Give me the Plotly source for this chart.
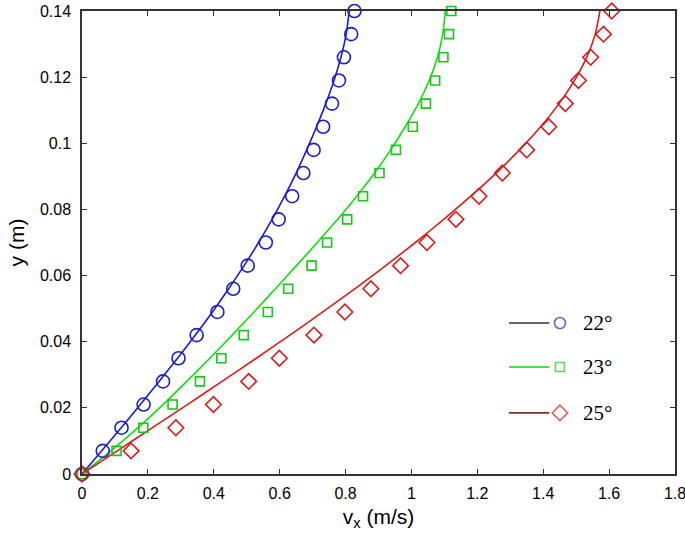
import plotly.graph_objects as go

# ---- data ----
y_pts = [0, 0.007, 0.014, 0.021, 0.028, 0.035, 0.042, 0.049, 0.056, 0.063, 0.07,
         0.077, 0.084, 0.091, 0.098, 0.105, 0.112, 0.119, 0.126, 0.133, 0.14]

# measured points (markers)
vx_22_pts = [0, 0.063, 0.12, 0.187, 0.246, 0.293, 0.348, 0.411, 0.459, 0.503, 0.558,
             0.597, 0.638, 0.672, 0.703, 0.732, 0.759, 0.780, 0.795, 0.817, 0.827]
vx_23_pts = [0, 0.105, 0.186, 0.275, 0.358, 0.423, 0.491, 0.564, 0.626, 0.697, 0.744,
             0.805, 0.853, 0.903, 0.953, 1.004, 1.044, 1.072, 1.097, 1.114, 1.121]
vx_25_pts = [0, 0.149, 0.285, 0.399, 0.506, 0.599, 0.704, 0.798, 0.877, 0.967, 1.047,
             1.135, 1.205, 1.276, 1.350, 1.417, 1.467, 1.507, 1.544, 1.583, 1.608]

# model curves (lines)
vx_22_line = [0, 0.06, 0.119, 0.177, 0.234, 0.29, 0.344, 0.396, 0.445, 0.492, 0.536,
              0.577, 0.615, 0.65, 0.682, 0.712, 0.74, 0.765, 0.786, 0.802, 0.811]
vx_23_line = [0, 0.088, 0.17, 0.246, 0.318, 0.388, 0.456, 0.522, 0.587, 0.651, 0.714,
              0.776, 0.834, 0.888, 0.937, 0.981, 1.021, 1.054, 1.079, 1.095, 1.103]
vx_25_line = [0, 0.107, 0.214, 0.32, 0.425, 0.529, 0.631, 0.731, 0.828, 0.922, 1.012,
              1.098, 1.18, 1.257, 1.328, 1.392, 1.448, 1.495, 1.532, 1.558, 1.572]

labels = ["22°", "23°", "25°"]
line_colors = ["#1a1ad0", "#10e010", "#dc1a1a"]
marker_colors = ["#1c1cc8", "#18c818", "#d41c1c"]
legend_line_colors = ["#303048", "#10d010", "#8a2a2a"]
symbols = ["circle-open", "square-open", "diamond-open"]
sizes = [13, 9, 12]

x_ticks = [0, 0.2, 0.4, 0.6, 0.8, 1, 1.2, 1.4, 1.6, 1.8]
y_ticks = [0, 0.02, 0.04, 0.06, 0.08, 0.1, 0.12, 0.14]

fig = go.Figure()

lines = [vx_22_line, vx_23_line, vx_25_line]
pts = [vx_22_pts, vx_23_pts, vx_25_pts]

for i in range(3):
    fig.add_trace(go.Scatter(
        x=lines[i], y=y_pts, mode="lines",
        line=dict(color=line_colors[i], width=1.6, shape="spline", smoothing=0.6),
        showlegend=False, hoverinfo="skip"))
for i in range(3):
    fig.add_trace(go.Scatter(
        x=pts[i], y=y_pts, mode="markers", cliponaxis=False,
        marker=dict(symbol=symbols[i], size=sizes[i], color=marker_colors[i],
                    line=dict(width=1.6, color=marker_colors[i])),
        name=labels[i], showlegend=False))

# ---- custom legend (line segment, then marker, then label) ----
leg_y = [0.326, 0.231, 0.132]
fig.add_trace(go.Scatter(
    x=[0.806] * 3, y=leg_y, mode="markers", xaxis="x2", yaxis="y2",
    marker=dict(symbol=symbols, size=[11, 9, 12], color=marker_colors,
                line=dict(width=1.6, color=marker_colors)),
    showlegend=False, hoverinfo="skip"))

shapes = []
annotations = []
for i in range(3):
    shapes.append(dict(type="line", xref="paper", yref="paper",
                       x0=0.720, x1=0.788, y0=leg_y[i], y1=leg_y[i],
                       line=dict(color=legend_line_colors[i], width=1.6)))
    annotations.append(dict(xref="paper", yref="paper", x=0.842, y=leg_y[i],
                            text=labels[i], showarrow=False, xanchor="left",
                            yanchor="middle",
                            font=dict(family="Liberation Serif", size=21, color="black")))

axis_font = dict(family="Liberation Sans, Arial", size=16, color="black")

fig.update_layout(
    width=685, height=544,
    margin=dict(l=82, r=10, t=11, b=70),
    paper_bgcolor="white", plot_bgcolor="white",
    shapes=shapes, annotations=annotations,
    xaxis=dict(range=[0, 1.8], tickvals=x_ticks, ticks="inside", ticklen=5,
               tickwidth=1.2, tickcolor="#333", showgrid=False, zeroline=False,
               showline=True, linecolor="#333", linewidth=1.5, mirror="ticks",
               tickfont=axis_font, automargin=False, ticklabelstandoff=4,
               ticklabeloverflow="allow",
               title=dict(text="v<sub>x</sub> (m/s)", standoff=8,
                          font=dict(family="Liberation Sans, Arial", size=21, color="black"))),
    yaxis=dict(range=[0, 0.14], tickvals=y_ticks, ticks="inside", ticklen=5,
               tickwidth=1.2, tickcolor="#333", showgrid=False, zeroline=False,
               showline=True, linecolor="#333", linewidth=1.5, mirror="ticks",
               tickfont=axis_font, automargin=False, ticklabelstandoff=6,
               ticklabeloverflow="allow",
               title=dict(text="y (m)", standoff=10,
                          font=dict(family="Liberation Sans, Arial", size=21, color="black"))),
    xaxis2=dict(range=[0, 1], overlaying="x", visible=False, fixedrange=True),
    yaxis2=dict(range=[0, 1], overlaying="y", visible=False, fixedrange=True),
)

fig.write_html("out.html", config={"displayModeBar": False},
               post_script="document.body.style.margin='0px';document.body.style.overflow='hidden';")
